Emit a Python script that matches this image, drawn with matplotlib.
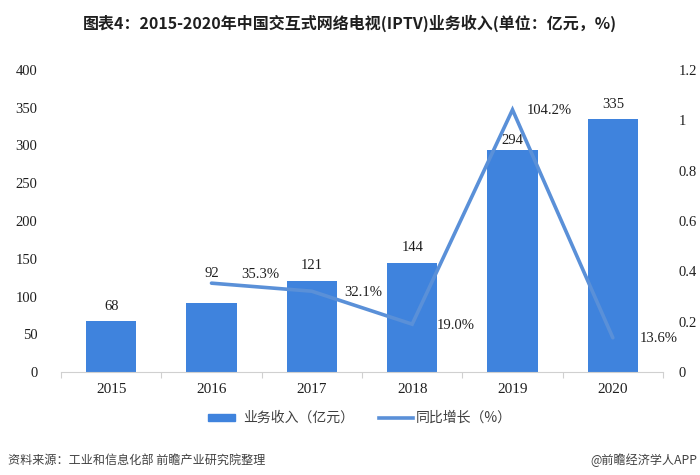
import matplotlib
matplotlib.use("Agg")
import matplotlib.pyplot as plt
from matplotlib.ticker import FixedLocator, FuncFormatter
from matplotlib.patches import Rectangle
from matplotlib.lines import Line2D

years = ["2015", "2016", "2017", "2018", "2019", "2020"]
revenue = [68, 92, 121, 144, 294, 335]
growth_years = ["2016", "2017", "2018", "2019", "2020"]
growth = [0.353, 0.321, 0.190, 1.042, 0.136]
growth_labels = ["35.3%", "32.1%", "19.0%", "104.2%", "13.6%"]
left_ticks = [0, 50, 100, 150, 200, 250, 300, 350, 400]
right_ticks = [0, 0.2, 0.4, 0.6, 0.8, 1.0, 1.2]

title = "图表4：2015-2020年中国交互式网络电视(IPTV)业务收入(单位：亿元，%)"
legend_bar = "业务收入（亿元）"
legend_line = "同比增长（%）"
source = "资料来源：工业和信息化部 前瞻产业研究院整理"
credit = "@前瞻经济学人APP"

BAR = "#3F83DD"
LINE = "#5A90D8"
TXT = "#1F1F1F"
serif = ["Liberation Serif", "DejaVu Serif"]
cjk = ["Noto Sans CJK SC", "DejaVu Sans"]

W, H = 700, 475
fig = plt.figure(figsize=(W / 100, H / 100), dpi=100)
ax = fig.add_axes([61 / W, 1 - 372 / H, (663 - 61) / W, (372 - 70) / H])
ax2 = ax.twinx()

x = list(range(len(years)))
ax.bar(x, revenue, width=0.5, color=BAR, zorder=2)
ax.set_xlim(-0.5, len(years) - 0.5)
ax.set_ylim(0, 400)
ax.yaxis.set_major_locator(FixedLocator(left_ticks))
ax.set_xticks(x)
ax.set_xticklabels(years, fontfamily=serif, fontsize=11, color=TXT)
ax.tick_params(axis="x", length=0, pad=8)
ax.set_xticks([i - 0.5 for i in range(len(years) + 1)], minor=True)
ax.tick_params(axis="x", which="minor", length=4, color="#D0D0D0", width=0.8)
ax.tick_params(axis="y", length=0, pad=17, labelsize=10.5, labelcolor=TXT)
for lab in ax.get_yticklabels():
    lab.set_fontfamily(serif)
for s in ["top", "left", "right"]:
    ax.spines[s].set_visible(False)
ax.spines["bottom"].set_color("#D0D0D0")
ax.spines["bottom"].set_linewidth(0.8)

bar_offsets = [14, 29, 15, 16, 10, 15]
for xi, v, off in zip(x, revenue, bar_offsets):
    ax.annotate(str(v), (xi, v), xytext=(0, off), textcoords="offset pixels",
                ha="center", va="center", fontsize=10.5, fontfamily=serif, color=TXT, zorder=5)

gx = [years.index(y) for y in growth_years]
ax2.plot(gx, growth, color=LINE, lw=2.6, solid_capstyle="round", solid_joinstyle="miter", zorder=3)
ax2.set_ylim(0, 1.2)
ax2.yaxis.set_major_locator(FixedLocator(right_ticks))
ax2.yaxis.set_major_formatter(FuncFormatter(lambda v, p: f"{v:g}"))
ax2.tick_params(axis="y", length=0, pad=11, labelsize=10.5, labelcolor=TXT)
for lab in ax2.get_yticklabels():
    lab.set_fontfamily(serif)
for s in ["top", "left", "right", "bottom"]:
    ax2.spines[s].set_visible(False)

g_offsets = [(30, 9), (32, -1), (25, -1), (14, -1), (27, -1)]
for xi, v, lab, (dx, dy) in zip(gx, growth, growth_labels, g_offsets):
    ax2.annotate(lab, (xi, v), xytext=(dx, dy), textcoords="offset pixels",
                 ha="left", va="center", fontsize=10.5, fontfamily=serif, color=TXT, zorder=5)

fig.text(350 / W, 1 - 23 / H, title, ha="center", va="center", fontsize=11.5,
         fontweight="bold", fontfamily=cjk, color=TXT)

# legend
ly = 1 - 418 / H
fig.patches.append(Rectangle((208 / W, ly - 3 / H), 27 / W, 7 / H, transform=fig.transFigure,
                             color=BAR, figure=fig))
fig.text(243 / W, ly, legend_bar, ha="left", va="center", fontsize=10, fontfamily=cjk, color="#404040")
fig.lines.append(Line2D([379 / W, 413 / W], [ly, ly], transform=fig.transFigure, color=LINE,
                        lw=2.6, figure=fig))
fig.text(416 / W, ly, legend_line, ha="left", va="center", fontsize=10, fontfamily=cjk, color="#404040")

fig.text(8 / W, 1 - 460 / H, source, ha="left", va="center", fontsize=8.7, fontfamily=cjk, color="#404040")
fig.text(697 / W, 1 - 460 / H, credit, ha="right", va="center", fontsize=8.7, fontfamily=cjk, color="#404040")

fig.savefig("out.png", dpi=100)
